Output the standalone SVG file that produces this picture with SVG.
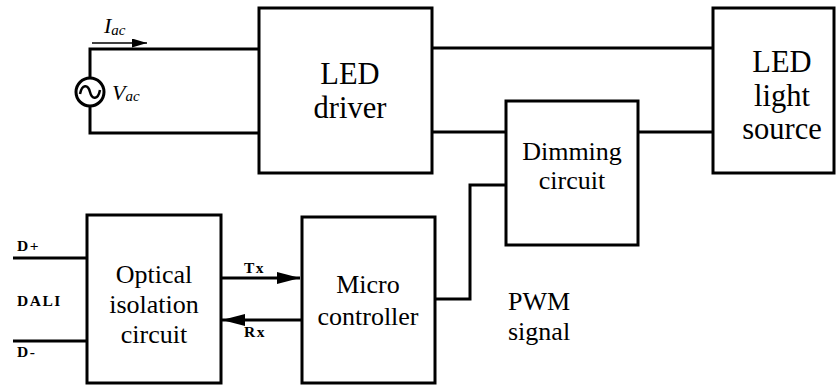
<svg xmlns="http://www.w3.org/2000/svg" width="837" height="385" viewBox="0 0 837 385">
<defs>
<style>
.box{fill:#fff;stroke:#000;stroke-width:3}
.w{fill:none;stroke:#000;stroke-width:3;stroke-linejoin:miter}
text{font-family:"Times New Roman","Liberation Serif",Tinos,"Nimbus Roman","DejaVu Serif",serif}
.tx{font-size:26px;fill:#000;text-anchor:middle}
.big{font-size:30.5px}
.lb{font-size:15.5px;font-weight:bold;letter-spacing:1.5px;fill:#000}
.it{font-style:italic;font-size:22px;fill:#000}
</style>
<marker id="ah" markerWidth="23" markerHeight="12" refX="23" refY="6" orient="auto" markerUnits="userSpaceOnUse">
<path d="M0,0 L23,6 L0,12 Z" fill="#000"/>
</marker>
<marker id="ahs" markerWidth="15" markerHeight="9" refX="15" refY="4.5" orient="auto" markerUnits="userSpaceOnUse">
<path d="M0,0 L15,4.5 L0,9 Z" fill="#000"/>
</marker>
</defs>
<g id="connectors">
<path class="w" d="M259,49 H90 V78"/>
<path class="w" d="M90,106 V133 H259"/>
<path class="w" d="M432,48 H713"/>
<path class="w" d="M432,132 H506"/>
<path class="w" d="M638,132 H713"/>
<path class="w" d="M435,299 H470 V185 H506"/>
<path class="w" d="M13,258 H87"/>
<path class="w" d="M13,341 H87"/>
<line x1="221" y1="278" x2="300" y2="278" stroke="#000" stroke-width="3" marker-end="url(#ah)"/>
<line x1="301" y1="320" x2="222" y2="320" stroke="#000" stroke-width="3" marker-end="url(#ah)"/>
<line x1="92" y1="43" x2="147" y2="43" stroke="#000" stroke-width="1.5" marker-end="url(#ahs)"/>
</g>
<g id="ac-source">
<circle cx="90" cy="92" r="14" fill="#fff" stroke="#000" stroke-width="3"/>
<path d="M80,94 C82,84 88,84 90,92 C92,100 98,100 100,90" fill="none" stroke="#000" stroke-width="2.5"/>
<text class="it" x="104" y="33">I<tspan font-size="15" dy="2">ac</tspan></text>
<text class="it" x="112" y="100">V<tspan font-size="15" dy="1">ac</tspan></text>
</g>
<g id="led-driver">
<rect class="box" x="259" y="8" width="173" height="165"/>
<text class="tx big" x="350" y="84">LED</text>
<text class="tx big" x="350" y="118">driver</text>
</g>
<g id="led-light-source">
<rect class="box" x="713" y="8" width="121" height="165"/>
<text class="tx big" x="782" y="72">LED</text>
<text class="tx big" x="782" y="106">light</text>
<text class="tx big" x="782" y="139">source</text>
</g>
<g id="dimming-circuit">
<rect class="box" x="506" y="101" width="132" height="144"/>
<text class="tx" x="572" y="160">Dimming</text>
<text class="tx" x="572" y="189">circuit</text>
</g>
<g id="optical-isolation">
<rect class="box" x="87" y="215" width="134" height="168"/>
<text class="tx" x="154" y="283">Optical</text>
<text class="tx" x="154" y="313">isolation</text>
<text class="tx" x="154" y="343">circuit</text>
</g>
<g id="micro-controller">
<rect class="box" x="302" y="217" width="133" height="166"/>
<text class="tx" x="368" y="293">Micro</text>
<text class="tx" x="368" y="325">controller</text>
</g>
<g id="labels">
<text class="lb" x="17" y="251">D+</text>
<text class="lb" x="17" y="306">DALI</text>
<text class="lb" x="17" y="357">D-</text>
<text class="lb" x="244" y="273">Tx</text>
<text class="lb" x="244" y="337">Rx</text>
<text class="tx" x="508" y="310" style="text-anchor:start">PWM</text>
<text class="tx" x="508" y="340" style="text-anchor:start">signal</text>
</g>
</svg>
